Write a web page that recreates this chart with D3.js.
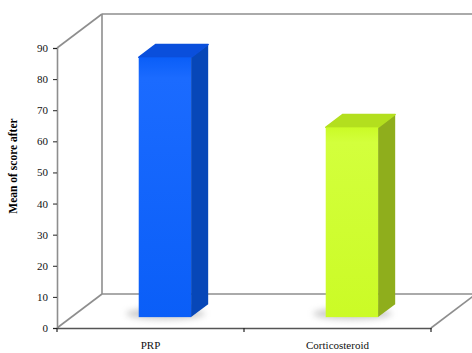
<!DOCTYPE html>
<html>
<head>
<meta charset="utf-8">
<script src="https://cdn.jsdelivr.net/npm/d3@7"></script>
<style>
  html, body { margin: 0; padding: 0; background: #fff; }
  svg { display: block; }
</style>
</head>
<body>
<svg id="chart" width="472" height="353"></svg>
<script>
// Data
const categories = ["PRP", "Corticosteroid"];
const values = [83.5, 61];
const yTicks = [0, 10, 20, 30, 40, 50, 60, 70, 80, 90];
const yLabel = "Mean of score after";

// Bar palettes: front, front highlight, side, top
const frontColors = ["#0a5ef8", "#cbfb26"];
const frontLight = ["#1b6bff", "#d3ff3c"];
const sideColors = ["#0747b8", "#8fae1c"];
const topColors = ["#0a4fdc", "#b3df1e"];

const serif = '"Liberation Serif", "DejaVu Serif", serif';
const svg = d3.select("#chart");

// Front plane geometry and depth offset (oblique projection)
const x0 = 57, x1 = 431;
const y = d3.scaleLinear().domain([0, 90]).range([328, 48]);
const x = d3.scaleBand().domain(categories).range([x0, x1]).paddingInner(0).paddingOuter(0);
const depthDX = 45, depthDY = -34;
const P = (px, py, d) => [px + depthDX * d, py + depthDY * d];

const gridColor = "#8e8e8e";
const line = (a, b, w) => svg.append("line")
  .attr("x1", a[0]).attr("y1", a[1]).attr("x2", b[0]).attr("y2", b[1])
  .attr("stroke", gridColor).attr("stroke-width", w || 1.6);

// Walls and floor outlines
const yMax = y(90), yMin = y(0);
line(P(x0, yMax, 1), P(x1, yMax, 1));            // back top
line(P(x0, yMax, 1), P(x0, yMin, 1));            // back-left vertical
line(P(x0, yMin, 1), P(x1, yMin, 1));            // back bottom
line(P(x1, yMin, 1), P(x1, yMax, 1));            // back-right vertical
line([x0, yMax], P(x0, yMax, 1));                // left top diagonal
line([x0, yMin], P(x0, yMin, 1));                // floor left diagonal
line([x1, yMin], P(x1, yMin, 1));                // floor right diagonal

// Value axis (front-left)
const yAxis = d3.axisLeft(y).tickValues(yTicks).tickSize(4).tickPadding(5);
const gy = svg.append("g").attr("transform", `translate(${x0},0)`).call(yAxis)
  .attr("font-family", serif).attr("font-size", 11);
gy.select(".domain").attr("stroke", gridColor).attr("stroke-width", 1.6);
gy.selectAll(".tick line").attr("stroke", "#222");
gy.selectAll(".tick text").attr("fill", "#111");

// Category axis (front-bottom)
const xAxis = d3.axisBottom(x).tickSize(0).tickPadding(13);
const gx = svg.append("g").attr("transform", `translate(0,${yMin})`).call(xAxis)
  .attr("font-family", serif).attr("font-size", 11);
gx.select(".domain").attr("stroke", "#555").attr("stroke-width", 1.6);
gx.selectAll(".tick text").attr("fill", "#111");
// tick marks at band boundaries
[x0, x0 + x.bandwidth(), x1].forEach(px => {
  svg.append("line").attr("x1", px).attr("x2", px).attr("y1", yMin).attr("y2", yMin + 4)
    .attr("stroke", "#222").attr("stroke-width", 1.2);
});

// Axis title
svg.append("text")
  .attr("transform", "translate(17,166) rotate(-90)")
  .attr("text-anchor", "middle")
  .attr("font-family", serif)
  .attr("font-size", 11.5).attr("font-weight", "bold")
  .text(yLabel);

// Gradients and shadow filter
const defs = svg.append("defs");
categories.forEach((c, i) => {
  const g = defs.append("linearGradient").attr("id", "front" + i)
    .attr("x1", 0).attr("x2", 0).attr("y1", 0).attr("y2", 1);
  g.append("stop").attr("offset", "0%").attr("stop-color", frontColors[i]);
  g.append("stop").attr("offset", "8%").attr("stop-color", frontLight[i]);
  g.append("stop").attr("offset", "100%").attr("stop-color", frontColors[i]);
});
defs.append("filter").attr("id", "soft").attr("x", "-50%").attr("y", "-50%").attr("width", "200%").attr("height", "200%")
  .append("feGaussianBlur").attr("stdDeviation", 3);

// Bars as boxes
const barFrac = 0.28, dFront = 0.32, dBack = 0.70;
const pts = arr => arr.map(p => p.join(",")).join(" ");
categories.forEach((c, i) => {
  const bw = x.bandwidth() * barFrac;
  const cx = x(c) + x.bandwidth() / 2;
  const l = cx - bw / 2, r = cx + bw / 2;
  const yt = y(values[i]), yb = y(0);
  const g = svg.append("g");

  // floor shadow
  const s0 = P(l, yb, dFront), s1 = P(r, yb, dBack);
  g.append("ellipse")
    .attr("cx", (s0[0] + s1[0]) / 2 - 8).attr("cy", (s0[1] + s1[1]) / 2 + 3)
    .attr("rx", bw * 0.75).attr("ry", 6)
    .attr("fill", "#9a9a9a").attr("opacity", 0.5).attr("filter", "url(#soft)");

  // side face
  g.append("polygon").attr("points", pts([P(r, yt, dFront), P(r, yt, dBack), P(r, yb, dBack), P(r, yb, dFront)]))
    .attr("fill", sideColors[i]);
  // top face
  g.append("polygon").attr("points", pts([P(l, yt, dFront), P(l, yt, dBack), P(r, yt, dBack), P(r, yt, dFront)]))
    .attr("fill", topColors[i]).attr("stroke", topColors[i]).attr("stroke-width", 1.5).attr("stroke-linejoin", "round");
  // front face
  const f0 = P(l, yt, dFront), f1 = P(r, yb, dFront);
  g.append("rect").attr("x", f0[0]).attr("y", f0[1])
    .attr("width", f1[0] - f0[0]).attr("height", f1[1] - f0[1])
    .attr("fill", `url(#front${i})`);
});
</script>
</body>
</html>
